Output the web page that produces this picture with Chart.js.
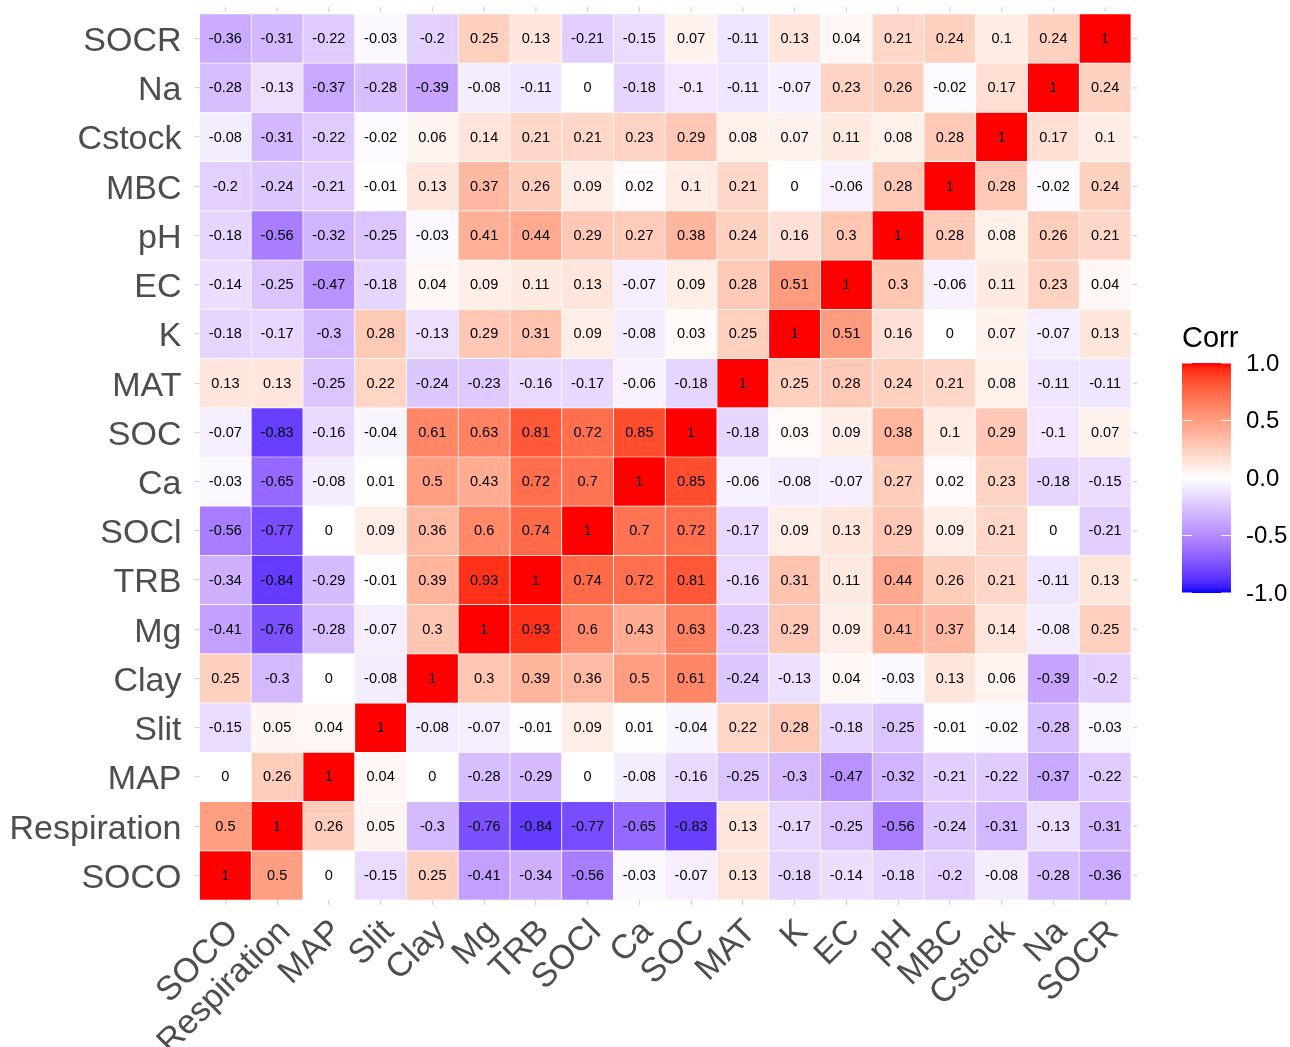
<!DOCTYPE html>
<html><head><meta charset="utf-8">
<script src="https://cdn.jsdelivr.net/npm/chart.js@4.4.1/dist/chart.umd.min.js"></script>
<style>html,body{margin:0;padding:0;background:#fff}#wrap{width:1290px;height:1047px}</style>
</head><body><div id="wrap"><canvas id="c" width="1290" height="1047"></canvas></div>
<script>
// Variables (x: left -> right, y: bottom -> top)
const variables = ['SOCO','Respiration','MAP','Slit','Clay','Mg','TRB','SOCl','Ca','SOC','MAT','K','EC','pH','MBC','Cstock','Na','SOCR'];

// Correlation rows, values in the order of `variables`
const corrSOCO        = [1, 0.5, 0, -0.15, 0.25, -0.41, -0.34, -0.56, -0.03, -0.07, 0.13, -0.18, -0.14, -0.18, -0.2, -0.08, -0.28, -0.36];
const corrRespiration = [0.5, 1, 0.26, 0.05, -0.3, -0.76, -0.84, -0.77, -0.65, -0.83, 0.13, -0.17, -0.25, -0.56, -0.24, -0.31, -0.13, -0.31];
const corrMAP         = [0, 0.26, 1, 0.04, 0, -0.28, -0.29, 0, -0.08, -0.16, -0.25, -0.3, -0.47, -0.32, -0.21, -0.22, -0.37, -0.22];
const corrSlit        = [-0.15, 0.05, 0.04, 1, -0.08, -0.07, -0.01, 0.09, 0.01, -0.04, 0.22, 0.28, -0.18, -0.25, -0.01, -0.02, -0.28, -0.03];
const corrClay        = [0.25, -0.3, 0, -0.08, 1, 0.3, 0.39, 0.36, 0.5, 0.61, -0.24, -0.13, 0.04, -0.03, 0.13, 0.06, -0.39, -0.2];
const corrMg          = [-0.41, -0.76, -0.28, -0.07, 0.3, 1, 0.93, 0.6, 0.43, 0.63, -0.23, 0.29, 0.09, 0.41, 0.37, 0.14, -0.08, 0.25];
const corrTRB         = [-0.34, -0.84, -0.29, -0.01, 0.39, 0.93, 1, 0.74, 0.72, 0.81, -0.16, 0.31, 0.11, 0.44, 0.26, 0.21, -0.11, 0.13];
const corrSOCl        = [-0.56, -0.77, 0, 0.09, 0.36, 0.6, 0.74, 1, 0.7, 0.72, -0.17, 0.09, 0.13, 0.29, 0.09, 0.21, 0, -0.21];
const corrCa          = [-0.03, -0.65, -0.08, 0.01, 0.5, 0.43, 0.72, 0.7, 1, 0.85, -0.06, -0.08, -0.07, 0.27, 0.02, 0.23, -0.18, -0.15];
const corrSOC         = [-0.07, -0.83, -0.16, -0.04, 0.61, 0.63, 0.81, 0.72, 0.85, 1, -0.18, 0.03, 0.09, 0.38, 0.1, 0.29, -0.1, 0.07];
const corrMAT         = [0.13, 0.13, -0.25, 0.22, -0.24, -0.23, -0.16, -0.17, -0.06, -0.18, 1, 0.25, 0.28, 0.24, 0.21, 0.08, -0.11, -0.11];
const corrK           = [-0.18, -0.17, -0.3, 0.28, -0.13, 0.29, 0.31, 0.09, -0.08, 0.03, 0.25, 1, 0.51, 0.16, 0, 0.07, -0.07, 0.13];
const corrEC          = [-0.14, -0.25, -0.47, -0.18, 0.04, 0.09, 0.11, 0.13, -0.07, 0.09, 0.28, 0.51, 1, 0.3, -0.06, 0.11, 0.23, 0.04];
const corrpH          = [-0.18, -0.56, -0.32, -0.25, -0.03, 0.41, 0.44, 0.29, 0.27, 0.38, 0.24, 0.16, 0.3, 1, 0.28, 0.08, 0.26, 0.21];
const corrMBC         = [-0.2, -0.24, -0.21, -0.01, 0.13, 0.37, 0.26, 0.09, 0.02, 0.1, 0.21, 0, -0.06, 0.28, 1, 0.28, -0.02, 0.24];
const corrCstock      = [-0.08, -0.31, -0.22, -0.02, 0.06, 0.14, 0.21, 0.21, 0.23, 0.29, 0.08, 0.07, 0.11, 0.08, 0.28, 1, 0.17, 0.1];
const corrNa          = [-0.28, -0.13, -0.37, -0.28, -0.39, -0.08, -0.11, 0, -0.18, -0.1, -0.11, -0.07, 0.23, 0.26, -0.02, 0.17, 1, 0.24];
const corrSOCR        = [-0.36, -0.31, -0.22, -0.03, -0.2, 0.25, 0.13, -0.21, -0.15, 0.07, -0.11, 0.13, 0.04, 0.21, 0.24, 0.1, 0.24, 1];

const corrRows = [corrSOCO, corrRespiration, corrMAP, corrSlit, corrClay, corrMg, corrTRB, corrSOCl, corrCa, corrSOC, corrMAT, corrK, corrEC, corrpH, corrMBC, corrCstock, corrNa, corrSOCR];

const legendTitle = 'Corr';
const legendValues = [1, 0.5, 0, -0.5, -1];
const legendLabels = ['1.0', '0.5', '0.0', '-0.5', '-1.0'];

const FONT = '"Liberation Sans", Arial, Helvetica, sans-serif';

// --- CIELAB gradient (blue - white - red), like ggplot2 scale_fill_gradient2 ---
function s2l(c){c/=255;return c<=0.04045?c/12.92:Math.pow((c+0.055)/1.055,2.4);}
function l2s(c){const v=c<=0.0031308?12.92*c:1.055*Math.pow(c,1/2.4)-0.055;return Math.round(Math.max(0,Math.min(1,v))*255);}
const Xn=0.95047,Yn=1,Zn=1.08883;
function rgb2lab(rgb){const R=s2l(rgb[0]),G=s2l(rgb[1]),B=s2l(rgb[2]);
  const X=0.4124564*R+0.3575761*G+0.1804375*B,Y=0.2126729*R+0.7151522*G+0.0721750*B,Z=0.0193339*R+0.1191920*G+0.9503041*B;
  const f=t=>t>216/24389?Math.cbrt(t):(24389/27*t+16)/116;
  const fx=f(X/Xn),fy=f(Y/Yn),fz=f(Z/Zn);
  return [116*fy-16,500*(fx-fy),200*(fy-fz)];}
function lab2rgb(lab){const fy=(lab[0]+16)/116,fx=fy+lab[1]/500,fz=fy-lab[2]/200;
  const fi=t=>{const t3=t*t*t;return t3>216/24389?t3:(116*t-16)/(24389/27);};
  const X=fi(fx)*Xn,Y=fi(fy)*Yn,Z=fi(fz)*Zn;
  const R=3.2404542*X-1.5371385*Y-0.4985314*Z,G=-0.9692660*X+1.8760108*Y+0.0415560*Z,B=0.0556434*X-0.2040259*Y+1.0572252*Z;
  return [l2s(R),l2s(G),l2s(B)];}
const LAB_LOW=rgb2lab([0,0,255]),LAB_MID=rgb2lab([255,255,255]),LAB_HIGH=rgb2lab([255,0,0]);
function corrColor(v){
  const t=Math.max(-1,Math.min(1,v));
  const a=LAB_MID, b=t<0?LAB_LOW:LAB_HIGH, u=Math.abs(t);
  const lab=[a[0]+(b[0]-a[0])*u,a[1]+(b[1]-a[1])*u,a[2]+(b[2]-a[2])*u];
  const c=lab2rgb(lab);return `rgb(${c[0]},${c[1]},${c[2]})`;
}

const datasets = corrRows.map((row,i)=>({
  label: variables[i],
  data: row.map(()=>[i,i+1]),
  backgroundColor: row.map(corrColor),
  borderColor: '#ffffff',
  borderWidth: 0.7,
  borderSkipped: false,
  barPercentage: 1,
  categoryPercentage: 1,
  grouped: false
}));

const cellLabels = {
  id:'cellLabels',
  afterDatasetsDraw(chart){
    const {ctx,scales:{x,y}}=chart;
    ctx.save();
    ctx.font='14.5px '+FONT;ctx.fillStyle='#000';ctx.textAlign='center';ctx.textBaseline='middle';
    corrRows.forEach((row,i)=>{
      const py=y.getPixelForValue(i+0.5);
      row.forEach((v,j)=>{ctx.fillText(String(v),x.getPixelForValue(j),py+0.5);});
    });
    ctx.restore();
  }
};

const oppositeTicks = {
  id:'oppositeTicks',
  afterDraw(chart){
    const {ctx,chartArea:a,scales:{x,y}}=chart;
    ctx.save();ctx.strokeStyle='#d4d4d4';ctx.lineWidth=1.2;
    ctx.beginPath();
    variables.forEach((_,j)=>{const px=x.getPixelForValue(j);ctx.moveTo(px,a.top-7);ctx.lineTo(px,a.top-2);});
    variables.forEach((_,i)=>{const py=y.getPixelForValue(i+0.5);ctx.moveTo(a.right+2,py);ctx.lineTo(a.right+6,py);});
    ctx.stroke();ctx.restore();
  }
};

const colorLegend = {
  id:'colorLegend',
  afterDraw(chart){
    const ctx=chart.ctx;
    const bx=1182,bw=49,top=363,bottom=593;
    ctx.save();
    ctx.fillStyle='#000';ctx.font='29px '+FONT;ctx.textAlign='left';ctx.textBaseline='alphabetic';
    ctx.fillText(legendTitle,1182,347);
    const g=ctx.createLinearGradient(0,bottom,0,top);
    for(let k=0;k<=40;k++){const v=-1+k/20;g.addColorStop(k/40,corrColor(v));}
    ctx.fillStyle=g;ctx.fillRect(bx,top,bw,bottom-top);
    const vy=v=>bottom-(v+1)/2*(bottom-top);
    ctx.strokeStyle='#ffffff';ctx.lineWidth=1.2;ctx.beginPath();
    legendValues.forEach(v=>{const py=vy(v);ctx.moveTo(bx,py);ctx.lineTo(bx+10,py);ctx.moveTo(bx+bw-10,py);ctx.lineTo(bx+bw,py);});
    ctx.stroke();
    ctx.fillStyle='#000';ctx.font='24px '+FONT;ctx.textBaseline='middle';
    legendValues.forEach((v,k)=>{ctx.fillText(legendLabels[k],1246,vy(v)+1);});
    ctx.restore();
  }
};

new Chart(document.getElementById('c'),{
  type:'bar',
  data:{labels:variables,datasets},
  options:{
    responsive:false,animation:false,
    layout:{padding:{left:0,right:159,top:14,bottom:0}},
    plugins:{legend:{display:false},tooltip:{enabled:false}},
    scales:{
      x:{type:'category',offset:true,
        grid:{display:true,drawOnChartArea:false,drawTicks:true,tickLength:5,color:'#d4d4d4',offset:false,lineWidth:1.2},
        border:{display:false},
        ticks:{autoSkip:false,maxRotation:45,minRotation:45,padding:7,labelOffset:8,color:'#4d4d4d',font:{family:FONT,size:34}},
        afterFit(s){s.height=147;s.paddingLeft=0;s.paddingRight=0;}
      },
      y:{type:'linear',min:0,max:18,
        afterBuildTicks(s){s.ticks=variables.map((_,i)=>({value:i+0.5}));},
        grid:{display:true,drawOnChartArea:false,drawTicks:true,tickLength:5,color:'#d4d4d4',lineWidth:1.2},
        border:{display:false},
        ticks:{padding:13,labelOffset:3,color:'#4d4d4d',font:{family:FONT,size:34},callback:(v)=>variables[Math.floor(v)]},
        afterFit(s){s.width=199.5;s.paddingTop=0;s.paddingBottom=0;}
      }
    }
  },
  plugins:[cellLabels,oppositeTicks,colorLegend]
});
</script></body></html>
